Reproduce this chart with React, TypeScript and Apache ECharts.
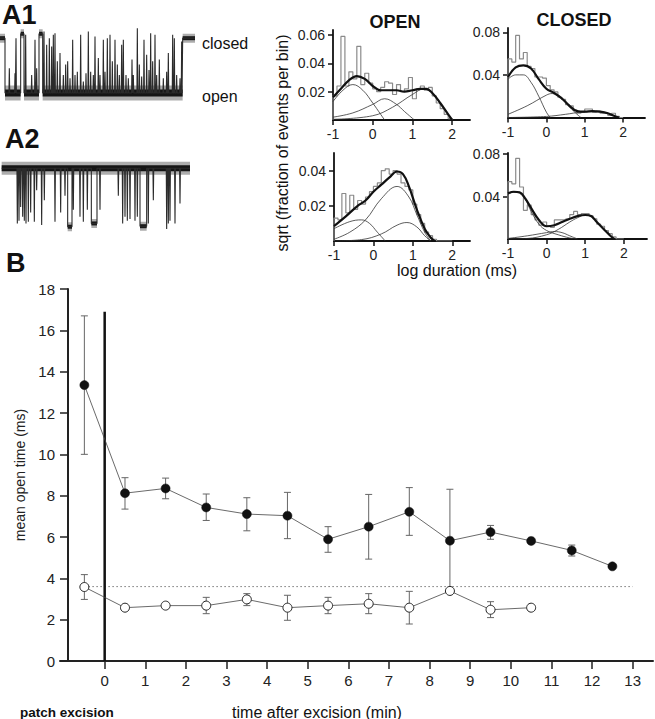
import React, { useEffect, useRef } from "react";
import * as echarts from "echarts";

const FONT = "'Liberation Sans', Arial, Helvetica, sans-serif";

// ---------- Panel B: mean open time vs time after excision ----------
const TIMES_FILLED = [-0.5, 0.5, 1.5, 2.5, 3.5, 4.5, 5.5, 6.5, 7.5, 8.5, 9.5, 10.5, 11.5, 12.5];
const FILLED_MEAN = [13.35, 8.12, 8.35, 7.43, 7.11, 7.03, 5.89, 6.5, 7.22, 5.82, 6.24, 5.81, 5.35, 4.58];
const FILLED_LO = [10.0, 7.35, 7.85, 6.8, 6.3, 5.92, 5.26, 4.93, 6.08, 3.45, 5.89, null, 5.08, null];
const FILLED_HI = [16.7, 8.87, 8.85, 8.08, 7.9, 8.16, 6.5, 8.06, 8.39, 8.31, 6.56, null, 5.61, null];

const TIMES_OPEN = [-0.5, 0.5, 1.5, 2.5, 3.5, 4.5, 5.5, 6.5, 7.5, 8.5, 9.5, 10.5];
const OPEN_MEAN = [3.58, 2.58, 2.68, 2.68, 2.98, 2.58, 2.68, 2.77, 2.58, 3.39, 2.48, 2.58];
const OPEN_LO = [2.98, 2.5, 2.6, 2.29, 2.68, 1.97, 2.29, 2.29, 1.79, 3.3, 2.1, 2.45];
const OPEN_HI = [4.18, 2.66, 2.76, 3.08, 3.26, 3.18, 3.08, 3.26, 3.37, 3.48, 2.87, 2.7];

const B_X_TICKS = [0, 1, 2, 3, 4, 5, 6, 7, 8, 9, 10, 11, 12, 13];
const CONTROL_LEVEL = 3.6;
const EXCISION_LINE_TOP = 16.9;

// ---------- Histograms (sqrt fraction per bin vs log duration) ----------
const HIST_EDGES = [-1.0, -0.9, -0.8, -0.7, -0.6, -0.5, -0.4, -0.3, -0.2, -0.1, 0.0, 0.1, 0.2, 0.3, 0.4, 0.5, 0.6, 0.7, 0.8, 0.9, 1.0, 1.1, 1.2, 1.3, 1.4, 1.5, 1.6, 1.7, 1.8, 1.9, 2.0];
const HIST_X_TICKS = [-1, 0, 1, 2];

// top-left: OPEN (A1)
const OPEN1_BINS = [0.017, 0.024, 0.059, 0.024, 0.034, 0.029, 0.052, 0.025, 0.033, 0.026, 0.022, 0.020, 0.023, 0.027, 0.026, 0.018, 0.025, 0.020, 0.022, 0.030, 0.015, 0.022, 0.024, 0.021, 0.023, 0.017, 0.012, 0.008, 0.004, 0.001];
const OPEN1_FIT_X = [-1, -0.8, -0.6, -0.4, -0.2, 0, 0.2, 0.4, 0.6, 0.8, 1.0, 1.2, 1.35, 1.5, 1.7, 1.9, 2.0];
const OPEN1_FIT_Y = [0.016, 0.022, 0.028, 0.031, 0.029, 0.024, 0.021, 0.021, 0.021, 0.020, 0.021, 0.022, 0.022, 0.019, 0.012, 0.004, 0];
const OPEN1_C1_X = [-1, -0.75, -0.5, -0.25, 0, 0.2, 0.3];
const OPEN1_C1_Y = [0.013, 0.021, 0.025, 0.021, 0.012, 0.004, 0];
const OPEN1_C2_X = [-1, -0.5, 0, 0.3, 0.6, 0.8, 1.05];
const OPEN1_C2_Y = [0.002, 0.005, 0.011, 0.015, 0.011, 0.006, 0];
const OPEN1_C3_X = [-1, 0, 0.5, 1.0, 1.3, 1.5, 1.7, 1.9, 2.0];
const OPEN1_C3_Y = [0.0005, 0.003, 0.009, 0.018, 0.022, 0.019, 0.012, 0.004, 0];
const OPEN1_Y_TICKS = [0.02, 0.04, 0.06];

// top-right: CLOSED (A1)
const CLOSED1_BINS = [0.055, 0.052, 0.077, 0.055, 0.061, 0.048, 0.046, 0.038, 0.038, 0.037, 0.030, 0.026, 0.024, 0.019, 0.017, 0.012, 0.011, 0.007, 0.004, 0.005, 0.008, 0.008, 0.005, 0.006, 0.004, 0.004, 0.002, 0.004, 0.001, 0.0];
const CLOSED1_FIT_X = [-1, -0.8, -0.6, -0.4, -0.2, 0, 0.2, 0.4, 0.6, 0.8, 1.0, 1.2, 1.4, 1.6, 1.8, 1.9];
const CLOSED1_FIT_Y = [0.038, 0.047, 0.049, 0.046, 0.036, 0.027, 0.023, 0.018, 0.011, 0.006, 0.0055, 0.006, 0.0055, 0.004, 0.001, 0];
const CLOSED1_C1_X = [-1, -0.8, -0.6, -0.4, -0.2, 0, 0.1];
const CLOSED1_C1_Y = [0.036, 0.040, 0.040, 0.033, 0.020, 0.005, 0];
const CLOSED1_C2_X = [-1, -0.5, 0, 0.15, 0.4, 0.6, 0.8, 0.9];
const CLOSED1_C2_Y = [0.003, 0.011, 0.021, 0.0225, 0.018, 0.010, 0.003, 0];
const CLOSED1_C3_X = [-1, 0, 0.5, 0.9, 1.3, 1.6, 1.85];
const CLOSED1_C3_Y = [0, 0.001, 0.003, 0.005, 0.0055, 0.004, 0];
const CLOSED1_Y_TICKS = [0.04, 0.08];

// bottom-left: OPEN (A2)
const OPEN2_BINS = [0.013, 0.012, 0.027, 0.016, 0.026, 0.018, 0.023, 0.021, 0.025, 0.028, 0.031, 0.033, 0.040, 0.041, 0.038, 0.040, 0.038, 0.033, 0.031, 0.029, 0.021, 0.015, 0.010, 0.005, 0.003, 0.001, 0, 0, 0, 0];
const OPEN2_FIT_X = [-1, -0.7, -0.4, -0.2, 0, 0.2, 0.4, 0.6, 0.75, 0.9, 1.1, 1.3, 1.45, 1.55];
const OPEN2_FIT_Y = [0.0085, 0.014, 0.020, 0.023, 0.028, 0.032, 0.036, 0.0395, 0.038, 0.031, 0.018, 0.007, 0.002, 0];
const OPEN2_C1_X = [-1, -0.6, -0.3, -0.1, 0.1, 0.3];
const OPEN2_C1_Y = [0.007, 0.011, 0.012, 0.010, 0.005, 0];
const OPEN2_C2_X = [-1, -0.6, -0.2, 0.2, 0.6, 0.9, 1.1, 1.3, 1.45];
const OPEN2_C2_Y = [0.001, 0.005, 0.012, 0.024, 0.031, 0.025, 0.015, 0.005, 0];
const OPEN2_C3_X = [-1, -0.3, 0.2, 0.6, 0.85, 1.1, 1.3, 1.45];
const OPEN2_C3_Y = [0, 0.0008, 0.004, 0.009, 0.0105, 0.008, 0.003, 0];
const OPEN2_Y_TICKS = [0.02, 0.04];

// bottom-right: CLOSED (A2)
const CLOSED2_BINS = [0.054, 0.052, 0.076, 0.049, 0.027, 0.032, 0.023, 0.018, 0.013, 0.016, 0.012, 0.011, 0.018, 0.018, 0.018, 0.019, 0.023, 0.026, 0.023, 0.024, 0.024, 0.022, 0.019, 0.014, 0.012, 0.008, 0.005, 0.002, 0, 0];
const CLOSED2_FIT_X = [-1, -0.85, -0.7, -0.55, -0.4, -0.2, 0, 0.2, 0.4, 0.6, 0.8, 1.0, 1.15, 1.3, 1.5, 1.65, 1.75];
const CLOSED2_FIT_Y = [0.043, 0.0445, 0.044, 0.038, 0.029, 0.018, 0.012, 0.013, 0.016, 0.019, 0.0216, 0.0226, 0.0216, 0.016, 0.0085, 0.003, 0];
const CLOSED2_C1_X = [-1, -0.85, -0.7, -0.55, -0.4, -0.2, 0, 0.3, 0.6, 0.8];
const CLOSED2_C1_Y = [0.042, 0.044, 0.043, 0.037, 0.026, 0.014, 0.008, 0.004, 0.001, 0];
const CLOSED2_C2_X = [-1, -0.5, 0, 0.2, 0.4, 0.6, 0.8];
const CLOSED2_C2_Y = [0.0005, 0.003, 0.006, 0.007, 0.006, 0.003, 0];
const CLOSED2_C3_X = [-1, -0.5, 0, 0.3, 0.6, 0.8, 1.0, 1.15, 1.3, 1.5, 1.65, 1.75];
const CLOSED2_C3_Y = [0, 0.0005, 0.004, 0.009, 0.016, 0.020, 0.0225, 0.0215, 0.016, 0.0085, 0.003, 0];
const CLOSED2_Y_TICKS = [0.04, 0.08];

// ---------- Single-channel traces (sample index, amplitude relative to open / closed level) ----------
const TRACE_LENGTH = 585;
// A1: mostly open (0), brief closures up toward closed level (1)
const A1_CLOSED_SEGMENTS = [[0, 15, 1.0], [62, 72, 1.08], [117, 128, 1.08], [548, 585, 1.0]];
const A1_CLOSURES = [[28, 0.45], [45, 0.36], [48, 1.0], [77, 1.06], [95, 0.33], [105, 0.97], [110, 0.45], [132, 1.12], [140, 0.88], [148, 1.0], [155, 0.85], [160, 1.06], [165, 1.09], [172, 0.58], [180, 0.73], [190, 0.33], [197, 0.52], [203, 0.58], [210, 0.27], [218, 0.97], [225, 0.33], [232, 0.39], [242, 1.06], [250, 0.21], [258, 0.36], [265, 1.12], [272, 0.39], [280, 0.33], [285, 1.03], [295, 0.64], [300, 0.33], [310, 0.97], [315, 0.39], [322, 1.0], [330, 1.06], [337, 0.58], [345, 0.97], [352, 0.52], [358, 0.33], [365, 0.88], [370, 0.97], [378, 0.33], [385, 0.27], [396, 0.61], [400, 0.33], [412, 1.18], [418, 0.52], [425, 0.3], [432, 0.97], [440, 0.7], [447, 0.42], [452, 1.09], [458, 0.58], [465, 1.06], [470, 0.33], [478, 0.61], [490, 0.27], [500, 0.39], [505, 0.73], [518, 1.06], [523, 1.0], [530, 0.33], [540, 0.27], [545, 0.94]];
// A2: mostly closed (0), openings downward (to -1)
const A2_START = 5;
const A2_END = 570;
const A2_BURSTS = [[203, 216, -1.06], [274, 291, -1.0], [420, 440, -1.05]];
const A2_OPENINGS = [[52, -1.0], [57, -0.95], [62, -0.7], [68, -0.88], [73, -0.95], [78, -1.0], [85, -0.97], [92, -0.8], [103, -0.97], [110, -0.4], [125, -1.03], [133, -0.58], [165, -0.97], [182, -0.8], [195, -0.5], [220, -0.75], [240, -0.88], [250, -0.97], [262, -0.75], [300, -0.75], [355, -0.5], [368, -1.0], [375, -0.88], [382, -0.95], [390, -0.92], [405, -0.95], [412, -0.88], [445, -1.0], [460, -0.58], [500, -1.1], [505, -1.0], [510, -0.95], [525, -1.0], [540, -0.64]];

function tracePoints(spikes: number[][], segs: number[][], t0: number, t1: number) {
  const ev: { s: number; pts: number[][] }[] = [];
  spikes.forEach(([t, a]) => ev.push({ s: t - 1.2, pts: [[t - 1.2, 0], [t, a], [t + 1.2, 0]] }));
  segs.forEach(([s, e, a]) => {
    const p: number[][] = [];
    if (s > t0) p.push([s, 0]);
    p.push([s, a], [e, a]);
    if (e < t1) p.push([e, 0]);
    ev.push({ s, pts: p });
  });
  ev.sort((a, b) => a.s - b.s);
  const out: number[][] = [];
  if (ev.length && ev[0].s > t0) out.push([t0, 0]);
  ev.forEach((e) => out.push(...e.pts));
  if (out[out.length - 1][0] < t1) out.push([t1, 0]);
  return out;
}

function zip(xs: number[], ys: number[]) {
  return xs.map((x, i) => [x, ys[i]]);
}

function stepOutline(edges: number[], vals: number[]) {
  const pts: number[][] = [[edges[0], 0]];
  vals.forEach((v, i) => {
    pts.push([edges[i], v], [edges[i + 1], v]);
  });
  pts.push([edges[edges.length - 1], 0]);
  return pts;
}

function lineSeries(idx: number, data: any[], color: string, width: number, extra: any = {}) {
  return {
    type: "line",
    xAxisIndex: idx,
    yAxisIndex: idx,
    data,
    symbol: "none",
    silent: true,
    lineStyle: { color, width },
    ...extra,
  };
}

function histSeries(idx: number, bins: number[], fit: number[][], comps: number[][][]) {
  const s: any[] = [];
  s.push(lineSeries(idx, stepOutline(HIST_EDGES, bins), "#8a8a8a", 1.2, { z: 1 }));
  comps.forEach((c) => s.push(lineSeries(idx, c, "#333", 0.8, { smooth: 0.4, z: 2 })));
  s.push(lineSeries(idx, fit, "#111", 2.2, { smooth: 0.4, z: 3 }));
  return s;
}

function histAxes(idx: number, xmax: number, ymax: number, yTicks: number[]) {
  const axisLine = { show: true, onZero: false, lineStyle: { color: "#111", width: 1.8 } };
  const x = {
    gridIndex: idx,
    type: "value",
    min: -1,
    max: xmax,
    axisLine,
    splitLine: { show: false },
    axisTick: { show: true, length: 5, customValues: HIST_X_TICKS, lineStyle: { color: "#111", width: 1.5 } },
    axisLabel: { customValues: HIST_X_TICKS, fontSize: 14, color: "#222", fontFamily: FONT, margin: 7 },
  };
  const y = {
    gridIndex: idx,
    type: "value",
    min: 0,
    max: ymax,
    axisLine,
    splitLine: { show: false },
    axisTick: { show: true, length: 5, customValues: yTicks, lineStyle: { color: "#111", width: 1.5 } },
    axisLabel: {
      customValues: yTicks,
      fontSize: 14,
      color: "#222",
      fontFamily: FONT,
      margin: 8,
      formatter: (v: number) => v.toFixed(2),
    },
  };
  return { x, y };
}

function errorSeries(times: number[], lo: (number | null)[], hi: (number | null)[]) {
  const data: number[][] = [];
  times.forEach((t, i) => {
    if (lo[i] != null && hi[i] != null) data.push([t, lo[i] as number, hi[i] as number]);
  });
  return {
    type: "custom",
    coordinateSystem: "cartesian2d",
    xAxisIndex: 6,
    yAxisIndex: 6,
    silent: true,
    z: 3,
    encode: { x: 0, y: [1, 2] },
    data,
    renderItem: (params: any, api: any) => {
      const x = api.value(0);
      const a = api.coord([x, api.value(1)]);
      const b = api.coord([x, api.value(2)]);
      const w = 3.5;
      const st = { stroke: "#666", lineWidth: 1 };
      return {
        type: "group",
        children: [
          { type: "line", shape: { x1: a[0], y1: a[1], x2: b[0], y2: b[1] }, style: st },
          { type: "line", shape: { x1: a[0] - w, y1: a[1], x2: a[0] + w, y2: a[1] }, style: st },
          { type: "line", shape: { x1: b[0] - w, y1: b[1], x2: b[0] + w, y2: b[1] }, style: st },
        ],
      };
    },
  };
}

function txt(text: string, x: number, y: number, size: number, weight: string = "normal", extra: any = {}) {
  return {
    type: "text",
    x,
    y,
    silent: true,
    ...extra,
    style: {
      text,
      fontSize: size,
      fontWeight: weight,
      fontFamily: FONT,
      fill: "#111",
      align: extra.align || "left",
      verticalAlign: "middle",
      textAlign: extra.align || "left",
      textVerticalAlign: "middle",
    },
  };
}

export default function App() {
  const ref = useRef<HTMLDivElement>(null);

  useEffect(() => {
    if (!ref.current) return;
    const chart = echarts.init(ref.current, undefined, { renderer: "svg" });

    const grids = [
      { left: 0, top: 25, width: 195, height: 90 }, // A1 trace
      { left: 0, top: 150, width: 195, height: 90 }, // A2 trace
      { left: 333, top: 30, width: 137, height: 90 }, // OPEN top
      { left: 508, top: 28, width: 137, height: 89.5 }, // CLOSED top
      { left: 334, top: 153, width: 136, height: 88 }, // OPEN bottom
      { left: 508, top: 153, width: 139, height: 86 }, // CLOSED bottom
      { left: 60, top: 289, width: 593, height: 372 }, // B
    ].map((g) => ({ ...g, outerBoundsMode: "none", containLabel: false }));

    const h1 = histAxes(2, 2.45, 0.0635, OPEN1_Y_TICKS);
    const h2 = histAxes(3, 2.57, 0.084, CLOSED1_Y_TICKS);
    const h3 = histAxes(4, 2.45, 0.05, OPEN2_Y_TICKS);
    const h4 = histAxes(5, 2.6, 0.081, CLOSED2_Y_TICKS);

    const hidden = { show: false };
    const xAxis: any[] = [
      { gridIndex: 0, type: "value", min: 0, max: TRACE_LENGTH, ...hidden },
      { gridIndex: 1, type: "value", min: 0, max: TRACE_LENGTH, ...hidden },
      h1.x,
      h2.x,
      h3.x,
      h4.x,
      {
        gridIndex: 6,
        type: "value",
        min: -1.1,
        max: 13.5,
        splitLine: { show: false },
        axisLine: { show: true, onZero: false, lineStyle: { color: "#222", width: 2 } },
        axisTick: { show: true, length: 8, customValues: B_X_TICKS, lineStyle: { color: "#222", width: 1.5 } },
        axisLabel: { customValues: B_X_TICKS, fontSize: 15, color: "#222", fontFamily: FONT, margin: 12 },
      },
    ];
    const yAxis: any[] = [
      { gridIndex: 0, type: "value", min: -0.4, max: 1.24, ...hidden },
      { gridIndex: 1, type: "value", min: -1.3, max: 0.33, ...hidden },
      h1.y,
      h2.y,
      h3.y,
      h4.y,
      {
        gridIndex: 6,
        type: "value",
        min: 0,
        max: 18,
        interval: 2,
        offset: -8,
        splitLine: { show: false },
        axisLine: { show: true, onZero: false, lineStyle: { color: "#222", width: 2 } },
        axisTick: { show: true, length: 8, lineStyle: { color: "#222", width: 1.5 } },
        axisLabel: { fontSize: 15, color: "#222", fontFamily: FONT, margin: 13 },
        name: "mean open time (ms)",
        nameLocation: "middle",
        nameGap: 38,
        nameTextStyle: { fontSize: 14, color: "#222", fontFamily: FONT },
      },
    ];

    const series: any[] = [];

    // A1 trace (noise halo + dark core at the open level)
    const a1Open: number[][] = [];
    for (let i = 0; i < A1_CLOSED_SEGMENTS.length - 1; i++) {
      a1Open.push([A1_CLOSED_SEGMENTS[i][1], A1_CLOSED_SEGMENTS[i + 1][0]]);
    }
    a1Open.forEach(([s, e]) => {
      series.push(lineSeries(0, [[s, 0], [e, 0]], "#6a6a6a", 15, { z: 0, lineStyle: { color: "#6a6a6a", width: 15, opacity: 0.55 } }));
      series.push(lineSeries(0, [[s, 0], [e, 0]], "#151515", 7, { z: 1 }));
    });
    A1_CLOSED_SEGMENTS.forEach(([s, e, a]) => {
      series.push(lineSeries(0, [[s, a], [e, a]], "#6a6a6a", 9, { z: 0, lineStyle: { color: "#6a6a6a", width: 9, opacity: 0.55 } }));
      series.push(lineSeries(0, [[s, a], [e, a]], "#1a1a1a", 4, { z: 1 }));
    });
    series.push(lineSeries(0, tracePoints(A1_CLOSURES, A1_CLOSED_SEGMENTS, 0, TRACE_LENGTH), "#2b2b2b", 1.1, { z: 2 }));

    // A2 trace
    series.push(lineSeries(1, [[A2_START, 0], [A2_END, 0]], "#6a6a6a", 13, { z: 0, lineStyle: { color: "#6a6a6a", width: 13, opacity: 0.55 } }));
    series.push(lineSeries(1, [[A2_START, 0], [A2_END, 0]], "#151515", 6, { z: 1 }));
    A2_BURSTS.forEach(([s, e, a]) => {
      series.push(lineSeries(1, [[s, a], [e, a]], "#6a6a6a", 9, { z: 0, lineStyle: { color: "#6a6a6a", width: 9, opacity: 0.55 } }));
      series.push(lineSeries(1, [[s, a], [e, a]], "#1a1a1a", 4, { z: 1 }));
    });
    series.push(lineSeries(1, tracePoints(A2_OPENINGS, A2_BURSTS, A2_START, A2_END), "#2b2b2b", 1.1, { z: 2 }));

    // histograms
    series.push(
      ...histSeries(2, OPEN1_BINS, zip(OPEN1_FIT_X, OPEN1_FIT_Y), [
        zip(OPEN1_C1_X, OPEN1_C1_Y),
        zip(OPEN1_C2_X, OPEN1_C2_Y),
        zip(OPEN1_C3_X, OPEN1_C3_Y),
      ])
    );
    series.push(
      ...histSeries(3, CLOSED1_BINS, zip(CLOSED1_FIT_X, CLOSED1_FIT_Y), [
        zip(CLOSED1_C1_X, CLOSED1_C1_Y),
        zip(CLOSED1_C2_X, CLOSED1_C2_Y),
        zip(CLOSED1_C3_X, CLOSED1_C3_Y),
      ])
    );
    series.push(
      ...histSeries(4, OPEN2_BINS, zip(OPEN2_FIT_X, OPEN2_FIT_Y), [
        zip(OPEN2_C1_X, OPEN2_C1_Y),
        zip(OPEN2_C2_X, OPEN2_C2_Y),
        zip(OPEN2_C3_X, OPEN2_C3_Y),
      ])
    );
    series.push(
      ...histSeries(5, CLOSED2_BINS, zip(CLOSED2_FIT_X, CLOSED2_FIT_Y), [
        zip(CLOSED2_C1_X, CLOSED2_C1_Y),
        zip(CLOSED2_C2_X, CLOSED2_C2_Y),
        zip(CLOSED2_C3_X, CLOSED2_C3_Y),
      ])
    );

    // Panel B
    series.push(lineSeries(6, [[0, 0], [0, EXCISION_LINE_TOP]], "#111", 2.5, { z: 2 }));
    series.push(
      lineSeries(6, [[-0.5, CONTROL_LEVEL], [13, CONTROL_LEVEL]], "#777", 1, {
        z: 1,
        lineStyle: { color: "#777", width: 1, type: [1.5, 2.5] },
      })
    );
    series.push(errorSeries(TIMES_FILLED, FILLED_LO, FILLED_HI));
    series.push(errorSeries(TIMES_OPEN, OPEN_LO, OPEN_HI));
    series.push({
      type: "line",
      xAxisIndex: 6,
      yAxisIndex: 6,
      data: zip(TIMES_FILLED, FILLED_MEAN),
      symbol: "circle",
      symbolSize: 9,
      showSymbol: true,
      silent: true,
      z: 5,
      itemStyle: { color: "#111", borderColor: "#111", borderWidth: 0.5 },
      lineStyle: { color: "#444", width: 0.8 },
    });
    series.push({
      type: "line",
      xAxisIndex: 6,
      yAxisIndex: 6,
      data: zip(TIMES_OPEN, OPEN_MEAN),
      symbol: "circle",
      symbolSize: 9,
      showSymbol: true,
      silent: true,
      z: 5,
      itemStyle: { color: "#fff", borderColor: "#222", borderWidth: 1 },
      lineStyle: { color: "#444", width: 0.8 },
    });

    const graphic = [
      txt("A1", 2, 15, 27, "bold"),
      txt("A2", 5, 139, 27, "bold"),
      txt("B", 6, 263, 27, "bold"),
      txt("closed", 202, 43, 16),
      txt("open", 202, 96, 16),
      txt("OPEN", 395, 22, 18, "bold", { align: "center" }),
      txt("CLOSED", 574, 20, 18, "bold", { align: "center" }),
      txt("sqrt (fraction of events per bin)", 282, 143, 16, "normal", { align: "center", rotation: Math.PI / 2 }),
      txt("log duration (ms)", 457, 270, 16, "normal", { align: "center" }),
      txt("time after excision (min)", 317, 712, 16, "normal", { align: "center" }),
      txt("patch excision", 20, 712, 13.5, "bold"),
    ];

    chart.setOption({
      animation: false,
      backgroundColor: "#fff",
      grid: grids,
      xAxis,
      yAxis,
      series,
      graphic,
    });

    return () => chart.dispose();
  }, []);

  return <div ref={ref} style={{ position: "absolute", left: 0, top: 0, width: 655, height: 719 }} />;
}
